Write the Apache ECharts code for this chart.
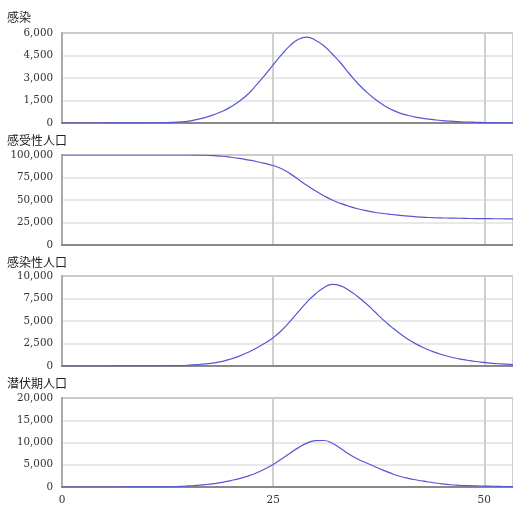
<!DOCTYPE html>
<html><head><meta charset="utf-8">
<script src="https://cdn.jsdelivr.net/npm/echarts@6/dist/echarts.min.js"></script>
<style>html,body{margin:0;padding:0;background:#fff;}#c{width:513px;height:506px;}</style>
</head><body><div id="c"></div>
<script>
const titles = ['感染', '感受性人口', '感染性人口', '潜伏期人口'];
const days = [0,1,2,3,4,5,6,7,8,9,10,11,12,13,14,15,16,17,18,19,20,21,22,23,24,25,26,27,28,29,30,31,32,33,34,35,36,37,38,39,40,41,42,43,44,45,46,47,48,49,50,51,52,53,53.4];
const infection = [0,0,0,1,1,2,3,4,6,9,13,18,27,40,70,130,240,380,560,780,1080,1450,1920,2520,3180,3870,4560,5160,5580,5720,5520,5150,4600,4000,3300,2650,2100,1620,1220,900,660,500,380,290,220,160,120,90,65,48,35,25,18,13,12];
const susceptible = [100000,100000,100000,100000,100000,100000,100000,100000,100000,100000,100000,100000,100000,100000,100000,100000,99900,99700,99250,98600,97500,96200,94600,92800,90700,88300,84700,79300,72800,66300,60300,54800,50000,46200,43000,40300,38100,36400,35000,33900,32900,32000,31300,30800,30400,30100,29900,29700,29500,29400,29300,29200,29150,29100,29100];
const infectious = [0,0,0,0,1,2,3,5,7,10,15,20,28,35,50,90,150,230,340,520,780,1100,1500,1980,2520,3150,3950,4950,6050,7100,8000,8700,9060,8900,8400,7720,6950,6050,5150,4350,3600,2950,2400,1950,1570,1260,1000,800,640,500,400,300,230,170,150];
const latent = [0,0,0,0,1,2,3,5,8,12,18,25,35,55,140,240,380,540,760,1050,1450,1900,2450,3150,4050,5080,6300,7600,8850,9850,10400,10450,9850,8650,7350,6300,5450,4600,3800,3050,2420,1950,1580,1250,950,700,500,380,300,250,210,170,130,100,90];
const yMax = [6000, 100000, 10000, 20000];
const yStep = [1500, 25000, 2500, 5000];
const xTicks = [0, 25, 50];
const seriesData = [infection, susceptible, infectious, latent];

const tops = [33, 155, 276, 398];
const titleY = [11, 134, 256, 377];
const chart = echarts.init(document.getElementById('c'), null, {renderer: 'canvas'});
const grid = [], xAxis = [], yAxis = [], series = [], title = [];
for (let i = 0; i < 4; i++) {
  grid.push({left: 62, right: 0, top: tops[i], height: 90, show: true, borderColor: '#666', borderWidth: 1.5, backgroundColor: '#fff'});
  title.push({text: titles[i], left: 7, top: titleY[i], padding: 0, textStyle: {fontFamily: 'Noto Sans CJK JP', fontSize: 12, fontWeight: 'normal', color: '#222'}});
  xAxis.push({
    type: 'value', gridIndex: i, min: xTicks[0], max: 53.4, interval: 25,
    axisLine: {show: true, lineStyle: {color: '#888', width: 2}},
    axisTick: {show: false},
    splitLine: {show: true, lineStyle: {color: '#cfcfcf', width: 2}},
    axisLabel: {show: i === 3, margin: 8, fontFamily: 'DejaVu Serif', fontSize: 10.5, color: '#333',
      showMaxLabel: false,
      formatter: v => xTicks.includes(v) ? String(v) : ''}
  });
  yAxis.push({
    type: 'value', gridIndex: i, min: 0, max: yMax[i], interval: yStep[i],
    axisLine: {show: true, lineStyle: {color: '#aaa', width: 2}},
    axisTick: {show: false},
    splitLine: {show: true, lineStyle: {color: '#e0e0e0', width: 1.5}},
    axisLabel: {margin: 9, fontFamily: 'DejaVu Serif', fontSize: 10.3, color: '#333',
      formatter: v => v.toLocaleString('en-US')}
  });
  series.push({
    type: 'line', xAxisIndex: i, yAxisIndex: i, showSymbol: false, smooth: true,
    lineStyle: {color: '#5656d4', width: 1.2},
    data: days.map((d, k) => [d, seriesData[i][k]])
  });
}
chart.setOption({animation: false, title, grid, xAxis, yAxis, series});
</script></body></html>
